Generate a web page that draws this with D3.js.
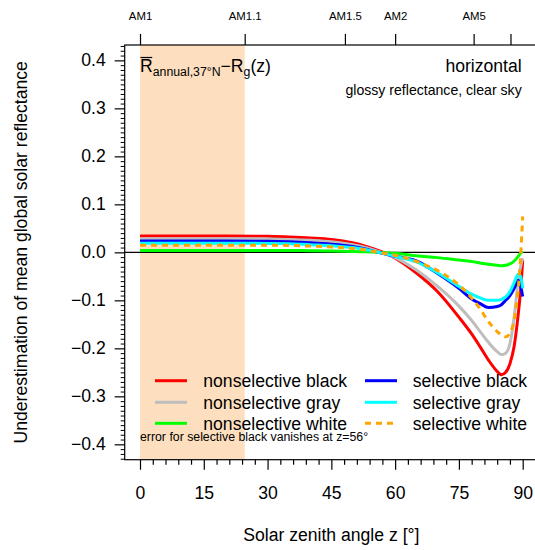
<!DOCTYPE html>
<html><head><meta charset="utf-8">
<script src="https://cdn.jsdelivr.net/npm/d3@7/dist/d3.min.js"></script>
<style>
html,body{margin:0;padding:0;background:#fff;}
svg{display:block;font-family:"Liberation Sans",Arial,Helvetica,sans-serif;}
</style></head>
<body><svg id="c" width="535" height="550"></svg>
<script>
// ---- data ----
const zenith = [0,10,20,30,35,40,45,50,53,56,60,65,70,75,78,80,82,84,85,86,87,88,89,89.5,90];
const nonselBlack = [0.034,0.034,0.034,0.0335,0.032,0.030,0.027,0.020,0.013,0.004,-0.012,-0.043,-0.082,-0.135,-0.170,-0.197,-0.225,-0.248,-0.255,-0.250,-0.232,-0.195,-0.125,-0.080,-0.016];
const nonselGray  = [0.0285,0.0285,0.0285,0.028,0.027,0.025,0.022,0.016,0.010,0.002,-0.011,-0.037,-0.071,-0.112,-0.142,-0.165,-0.188,-0.207,-0.213,-0.210,-0.190,-0.135,-0.055,-0.030,-0.012];
const nonselWhite = [0.004,0.004,0.004,0.004,0.004,0.0035,0.003,0.002,0.001,0.000,-0.002,-0.007,-0.011,-0.016,-0.019,-0.022,-0.025,-0.027,-0.028,-0.027,-0.024,-0.018,-0.008,-0.002,0.002];
const selBlack    = [0.0235,0.0235,0.0235,0.023,0.022,0.020,0.017,0.012,0.007,0.000,-0.008,-0.018,-0.044,-0.075,-0.097,-0.107,-0.115,-0.113,-0.109,-0.100,-0.090,-0.075,-0.058,-0.070,-0.092];
const selGray     = [0.019,0.019,0.019,0.0185,0.018,0.016,0.014,0.010,0.006,0.000,-0.008,-0.020,-0.043,-0.071,-0.087,-0.095,-0.100,-0.100,-0.098,-0.093,-0.082,-0.063,-0.045,-0.050,-0.075];
const selWhite    = [0.015,0.015,0.015,0.015,0.0145,0.013,0.011,0.008,0.005,0.000,-0.006,-0.019,-0.038,-0.068,-0.095,-0.118,-0.145,-0.165,-0.172,-0.176,-0.168,-0.140,-0.070,-0.010,0.075];

const seriesNames = ["nonselective black","nonselective gray","nonselective white","selective black","selective gray","selective white"];
const seriesColors = ["#FF0000","#BEBEBE","#00FF00","#0000FF","#00FFFF","#FFA500"];
const seriesValues = [nonselBlack,nonselGray,nonselWhite,selBlack,selGray,selWhite];

const xTicks = [0,15,30,45,60,75,90];
const yTicks = [-0.4,-0.3,-0.2,-0.1,0,0.1,0.2,0.3,0.4];
const amZenith = [0,24.62,48.19,60,78.46,87.13];
const amLabels = ["AM1","AM1.1","AM1.5","AM2","AM5",""];
const shadeRange = [0,24.62];

// ---- drawing ----
const svg = d3.select("#c");
const x = d3.scaleLinear().domain([-3.6,93.6]).range([124.7,538]);
const y = d3.scaleLinear().domain([-0.432,0.432]).range([459.7,45]);
const FS = 17.6;

// shading
svg.append("rect").attr("x",x(shadeRange[0])).attr("y",y(0.432))
  .attr("width",x(shadeRange[1])-x(shadeRange[0])).attr("height",y(-0.432)-y(0.432))
  .attr("fill","#FDDFBF");

// zero line
svg.append("line").attr("x1",x(-3.6)).attr("x2",x(93.6)).attr("y1",y(0)).attr("y2",y(0))
  .attr("stroke","#000").attr("stroke-width",1.2);

// curves
const line = d3.line().x(d=>x(d[0])).y(d=>y(d[1])).curve(d3.curveMonotoneX);
seriesValues.forEach((vals,i)=>{
  svg.append("path").datum(zenith.map((z,j)=>[z,vals[j]]))
    .attr("d",line).attr("fill","none").attr("stroke",seriesColors[i])
    .attr("stroke-width",3).attr("stroke-linejoin","round")
    .attr("stroke-dasharray", i===5 ? "6,5" : null);
});

// box
svg.append("rect").attr("x",x(-3.6)).attr("y",y(0.432)).attr("width",x(93.6)-x(-3.6))
  .attr("height",y(-0.432)-y(0.432)).attr("fill","none").attr("stroke","#000").attr("stroke-width",1.2);

// bottom axis
const xAxis = d3.axisBottom(x).tickValues(xTicks).tickSize(10).tickPadding(17).tickFormat(d3.format("d"));
const gx = svg.append("g").attr("transform",`translate(0,${y(-0.432)})`).call(xAxis);
gx.select(".domain").remove();
gx.selectAll("line").attr("stroke-width",1.2);
gx.selectAll("text").attr("font-size",FS).attr("font-family","Liberation Sans, Arial, sans-serif");
const xMinor = d3.range(0,91,3).filter(v=>v%15!==0);
svg.append("g").attr("transform",`translate(0,${y(-0.432)})`)
  .call(d3.axisBottom(x).tickValues(xMinor).tickSize(5).tickFormat(""))
  .call(g=>{g.select(".domain").remove();g.selectAll("line").attr("stroke-width",1.2);});

// left axis
const yAxis = d3.axisLeft(y).tickValues(yTicks).tickSize(10).tickPadding(9)
  .tickFormat(d=>d3.format(".1f")(d).replace("-","\u2212"));
const gy = svg.append("g").attr("transform",`translate(${x(-3.6)},0)`).call(yAxis);
gy.select(".domain").remove();
gy.selectAll("line").attr("stroke-width",1.2);
gy.selectAll("text").attr("font-size",FS).attr("font-family","Liberation Sans, Arial, sans-serif");
const yMinor = d3.range(-43,44).map(v=>v/100).filter(v=>Math.abs(Math.round(v*100))%10!==0);
svg.append("g").attr("transform",`translate(${x(-3.6)},0)`)
  .call(d3.axisLeft(y).tickValues(yMinor).tickSize(4).tickFormat(""))
  .call(g=>{g.select(".domain").remove();g.selectAll("line").attr("stroke-width",1);});

// top axis (air mass)
const gt = svg.append("g").attr("transform",`translate(0,${y(0.432)})`)
  .call(d3.axisTop(x).tickValues(amZenith).tickSize(11).tickPadding(14).tickFormat((d,i)=>amLabels[i]));
gt.select(".domain").remove();
gt.selectAll("line").attr("stroke-width",1.2);
gt.selectAll("text").attr("font-size",11.4).attr("font-family","Liberation Sans, Arial, sans-serif");

// axis titles
svg.append("text").attr("x",x(45)).attr("y",541).attr("text-anchor","middle")
  .attr("font-size",FS).text("Solar zenith angle z [°]");
svg.append("text").attr("transform",`translate(27,${y(0)}) rotate(-90)`).attr("text-anchor","middle")
  .attr("font-size",FS).text("Underestimation of mean global solar reflectance");

// panel title
const t = svg.append("text").attr("x",140).attr("y",72).attr("font-size",FS);
const tR = t.append("tspan").text("R");
t.append("tspan").attr("font-size",12.3).attr("dy",4).text("annual,37°N");
t.append("tspan").attr("dy",-4).text("\u2212R");
t.append("tspan").attr("font-size",12.3).attr("dy",4).text("g");
t.append("tspan").attr("dy",-4).text("(z)");
const rW = tR.node().getComputedTextLength();
svg.append("line").attr("x1",140.5).attr("x2",140+rW-0.5).attr("y1",57.5).attr("y2",57.5)
  .attr("stroke","#000").attr("stroke-width",1.2);

svg.append("text").attr("x",521.7).attr("y",72).attr("text-anchor","end").attr("font-size",FS).text("horizontal");
svg.append("text").attr("x",521.7).attr("y",95).attr("text-anchor","end").attr("font-size",14.1).text("glossy reflectance, clear sky");

// legend
const legX = [155,365], legTX = [203.3,412.7], legY = [380.7,402.3,423.3];
seriesNames.forEach((name,i)=>{
  const col = Math.floor(i/3), row = i%3;
  svg.append("line").attr("x1",legX[col]).attr("x2",legX[col]+32).attr("y1",legY[row]).attr("y2",legY[row])
    .attr("stroke",seriesColors[i]).attr("stroke-width",3).attr("stroke-dasharray", i===5 ? "6,5" : null);
  svg.append("text").attr("x",legTX[col]).attr("y",legY[row]+6.2).attr("font-size",FS).text(name);
});
svg.append("text").attr("x",140).attr("y",441).attr("font-size",12.3).text("error for selective black vanishes at z=56°");
</script></body></html>
